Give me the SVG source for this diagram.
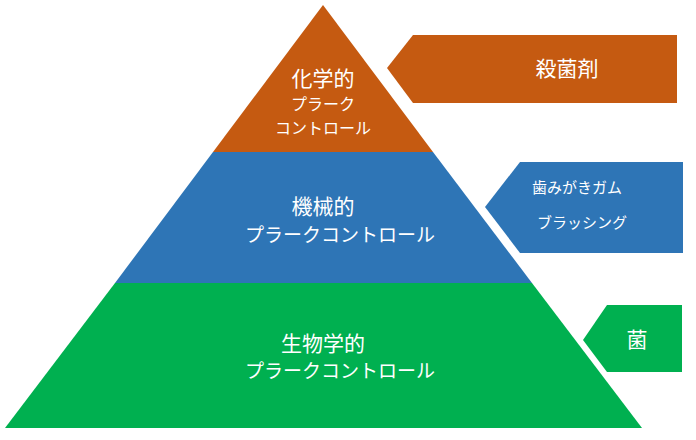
<svg xmlns="http://www.w3.org/2000/svg" width="696" height="440" viewBox="0 0 696 440">
<style>
text{font-family:"Noto Sans CJK JP","Noto Sans",sans-serif;fill:#fff;text-anchor:middle}
.o{fill:#C55A11}.b{fill:#2E75B6}.g{fill:#00B050}
.big{font-size:21px}.sm{font-size:16px}.xs{font-size:15px}
</style>
<rect width="696" height="440" fill="#fff"/>
<g id="tier1"><polygon class="o" points="323,5 433,152 213,152"/>
<text class="big" x="323" y="86">化学的</text><text class="sm" x="323" y="110">プラーク</text><text class="sm" x="323" y="134">コントロール</text></g>
<g id="tier2"><polygon class="b" points="213,152 433,152 532,283 115,283"/>
<text class="big" x="323" y="214">機械的</text><text class="big" x="340" y="242" style="font-size:19px">プラークコントロール</text></g>
<g id="tier3"><polygon class="g" points="115,283 532,283 642,428 5,428"/>
<text class="big" x="323" y="351">生物学的</text><text class="big" x="340" y="378" style="font-size:19px">プラークコントロール</text></g>
<g id="a1"><polygon class="o" points="387,68 413,35 677,35 677,103 413,103"/><text class="big" x="567" y="76">殺菌剤</text></g>
<g id="a2"><polygon class="b" points="485,207 520,162 683,162 683,253 520,253"/><text class="xs" x="577" y="193">歯みがきガム</text><text class="xs" x="582" y="228">ブラッシング</text></g>
<g id="a3"><polygon class="g" points="583,340 607,305 682,305 682,372 607,372"/><text class="big" x="637" y="347">菌</text></g>
</svg>
